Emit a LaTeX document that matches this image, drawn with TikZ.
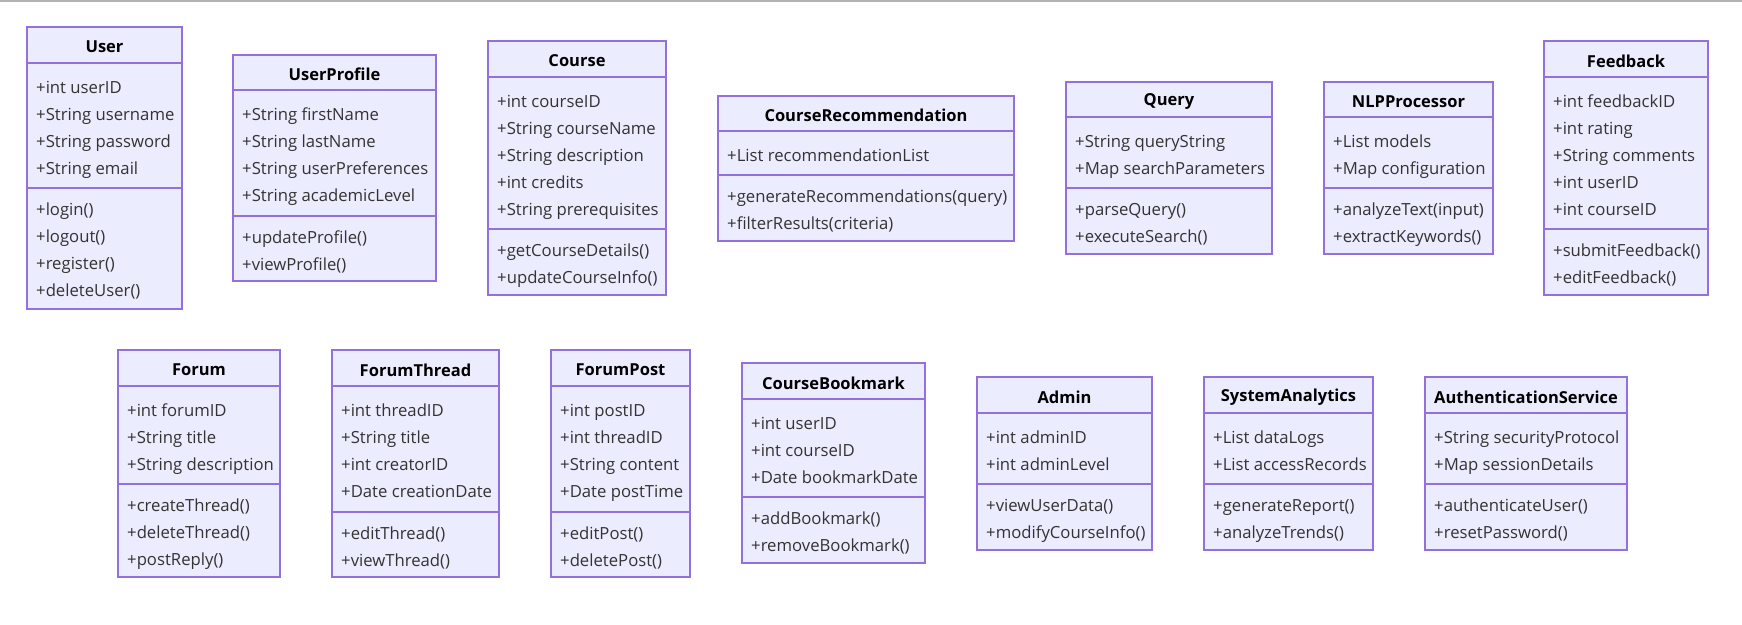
\documentclass[tikz,border=0pt]{standalone}
\usepackage{fontspec}
\setmainfont{Open Sans}
\definecolor{classfill}{HTML}{ECECFF}
\definecolor{classline}{HTML}{9370DB}
\definecolor{classtext}{HTML}{333333}
\tikzset{every picture/.style = {x=1pt, y=-1pt}}
\tikzset{box/.style = {fill=classfill, draw=classline, line width=1.5}}
\tikzset{sep/.style = {draw=classline, line width=1.5}}
\tikzset{head/.style = {font=\fontsize{16.5}{19}\selectfont\bfseries, text=black, inner sep=0}}
\tikzset{member/.style = {font=\fontsize{16.7}{19}\selectfont, text=classtext, inner sep=0, anchor=base west}}

% name, left, top, right, bottom, first rule, second rule, fields, operations
\newcommand{\classbox}[9]{
  \draw[box] (#2, #3) rectangle (#4, #5);
  \draw[sep] (#2, #6) -- (#4, #6);
  \draw[sep] (#2, #7) -- (#4, #7);
  \node[head] (#1) at ({(#2+#4)/2}, {(#3+#6)/2+2}) {#1};
  \foreach \m [count=\i from 0] in {#8}
    \node[member] (#1-a\i) at (#2+9, #6+30+27*\i) {\m};
  \foreach \m [count=\i from 0] in {#9}
    \node[member] (#1-m\i) at (#2+9, #7+27+27*\i) {\m};
}

\begin{document}
\begin{tikzpicture}
  \useasboundingbox (0, 0) rectangle (1742, 624);
  \draw[gray!60, line width=2] (0, 1) -- (1742, 1);
  % top row
  \classbox{User}{27}{27}{182}{309}{63}{188}
    {+int userID, +String username, +String password, +String email}
    {+login(), +logout(), +register(), +deleteUser()}
  \classbox{UserProfile}{233}{55}{436}{281}{90}{216}
    {+String firstName, +String lastName, +String userPreferences, +String academicLevel}
    {+updateProfile(), +viewProfile()}
  \classbox{Course}{488}{41}{666}{295}{77}{229}
    {+int courseID, +String courseName, +String description, +int credits, +String prerequisites}
    {+getCourseDetails(), +updateCourseInfo()}
  \classbox{CourseRecommendation}{718}{96}{1014}{241}{131}{175}
    {+List recommendationList}
    {+generateRecommendations(query), +filterResults(criteria)}
  \classbox{Query}{1066}{82}{1272}{254}{117}{188}
    {+String queryString, +Map searchParameters}
    {+parseQuery(), +executeSearch()}
  \classbox{NLPProcessor}{1324}{82}{1493}{254}{117}{188}
    {+List models, +Map configuration}
    {+analyzeText(input), +extractKeywords()}
  \classbox{Feedback}{1544}{41}{1708}{295}{77}{229}
    {+int feedbackID, +int rating, +String comments, +int userID, +int courseID}
    {+submitFeedback(), +editFeedback()}
  % bottom row
  \classbox{Forum}{118}{350}{280}{577}{386}{484}
    {+int forumID, +String title, +String description}
    {+createThread(), +deleteThread(), +postReply()}
  \classbox{ForumThread}{332}{350}{499}{577}{386}{512}
    {+int threadID, +String title, +int creatorID, +Date creationDate}
    {+editThread(), +viewThread()}
  \classbox{ForumPost}{551}{350}{690}{577}{386}{512}
    {+int postID, +int threadID, +String content, +Date postTime}
    {+editPost(), +deletePost()}
  \classbox{CourseBookmark}{742}{363}{925}{563}{399}{497}
    {+int userID, +int courseID, +Date bookmarkDate}
    {+addBookmark(), +removeBookmark()}
  \classbox{Admin}{977}{377}{1152}{550}{413}{484}
    {+int adminID, +int adminLevel}
    {+viewUserData(), +modifyCourseInfo()}
  \classbox{SystemAnalytics}{1204}{377}{1373}{550}{413}{484}
    {+List dataLogs, +List accessRecords}
    {+generateReport(), +analyzeTrends()}
  \classbox{AuthenticationService}{1425}{377}{1627}{550}{413}{484}
    {+String securityProtocol, +Map sessionDetails}
    {+authenticateUser(), +resetPassword()}
\end{tikzpicture}
\end{document}
